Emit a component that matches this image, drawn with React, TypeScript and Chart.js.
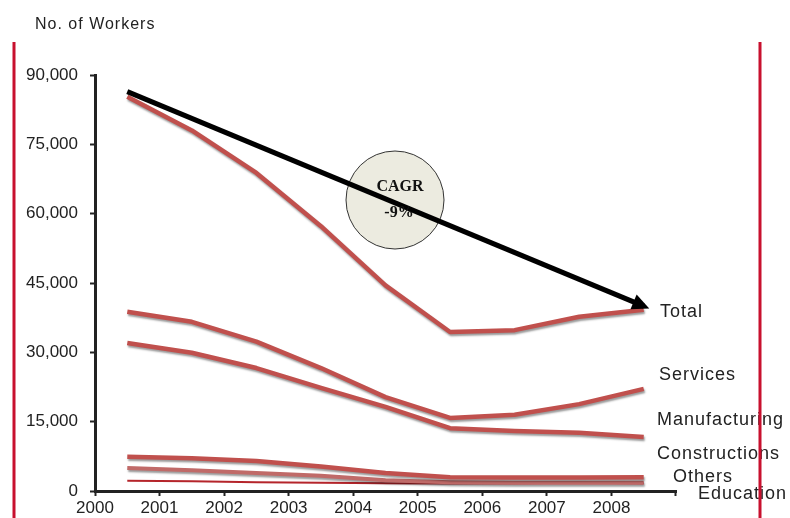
import { useEffect, useRef } from "react";
import { Chart, registerables } from "chart.js";

Chart.register(...registerables);

// ---- data ----
const years = ["2000", "2001", "2002", "2003", "2004", "2005", "2006", "2007", "2008"];
const total = [85300, 78000, 68800, 57300, 44500, 34400, 34800, 37700, 39200];
const services = [38800, 36600, 32300, 26600, 20300, 15800, 16500, 18800, 22100];
const manufacturing = [32000, 29900, 26600, 22300, 18200, 13600, 13000, 12600, 11700];
const constructions = [7400, 7100, 6500, 5300, 3900, 3000, 2900, 2900, 3000];
const others = [5000, 4500, 3900, 3300, 2300, 1900, 1800, 1800, 1800];
const education = [2200, 2100, 1900, 1800, 1700, 1600, 1700, 1800, 1700];
const cagrTrend = [86400, null, null, null, null, null, null, null, 40000];
const seriesNames = ["Total", "Services", "Manufacturing", "Constructions", "Others", "Education"];
const cagrText = ["CAGR", "-9%"];
const axisTitle = "No. of Workers";
const yMin = 0;
const yMax = 90000;
const yStep = 15000;

// ---- styles ----
const RED = "#C0504D";
const labelPos = [
  { x: 660, y: 312 },
  { x: 659, y: 375 },
  { x: 657, y: 420 },
  { x: 657, y: 454 },
  { x: 673, y: 477 },
  { x: 698, y: 494 },
];
const circle = { x: 395, y: 200, r: 49 };

const decor = {
  id: "decor",
  beforeDraw(chart: any) {
    const ctx = chart.ctx;
    ctx.save();
    ctx.fillStyle = "#222";
    ctx.font = "16px 'Liberation Sans', Arial, sans-serif";
    (ctx as any).letterSpacing = "1px";
    ctx.textBaseline = "middle";
    ctx.textAlign = "left";
    ctx.fillText(axisTitle, 35, 25);
    ctx.restore();
  },
  beforeDatasetsDraw(chart: any) {
    const ctx = chart.ctx;
    ctx.save();
    ctx.beginPath();
    ctx.arc(circle.x, circle.y, circle.r, 0, Math.PI * 2);
    ctx.fillStyle = "#ECEBE0";
    ctx.fill();
    ctx.lineWidth = 1;
    ctx.strokeStyle = "#333";
    ctx.stroke();
    ctx.restore();
  },
  beforeDatasetDraw(chart: any, args: any) {
    const ds = chart.data.datasets[args.index];
    const ctx = chart.ctx;
    ctx.save();
    if (ds.shadow) {
      ctx.shadowColor = "rgba(0,0,0,0.4)";
      ctx.shadowOffsetX = 1;
      ctx.shadowOffsetY = 2;
      ctx.shadowBlur = 2;
    }
  },
  afterDatasetDraw(chart: any) {
    chart.ctx.restore();
  },
  afterDatasetsDraw(chart: any) {
    const ctx = chart.ctx;
    // arrow head on CAGR trend
    const meta = chart.getDatasetMeta(0);
    const pts = meta.data;
    const a = pts[0];
    const b = pts[pts.length - 1];
    const ang = Math.atan2(b.y - a.y, b.x - a.x);
    const len = 17;
    const hw = 8;
    const tipX = b.x + Math.cos(ang) * 6;
    const tipY = b.y + Math.sin(ang) * 6;
    ctx.save();
    ctx.fillStyle = "#000";
    ctx.beginPath();
    ctx.moveTo(tipX, tipY);
    ctx.lineTo(
      tipX - len * Math.cos(ang) + hw * Math.sin(ang),
      tipY - len * Math.sin(ang) - hw * Math.cos(ang)
    );
    ctx.lineTo(
      tipX - len * Math.cos(ang) - hw * Math.sin(ang),
      tipY - len * Math.sin(ang) + hw * Math.cos(ang)
    );
    ctx.closePath();
    ctx.fill();
    // CAGR text
    ctx.fillStyle = "#111";
    ctx.font = "bold 16px 'Liberation Serif', 'Times New Roman', serif";
    ctx.textAlign = "center";
    ctx.textBaseline = "middle";
    ctx.fillText(cagrText[0], circle.x + 5, 187);
    ctx.fillText(cagrText[1], circle.x + 4, 213);
    ctx.restore();
  },
  afterDraw(chart: any) {
    const ctx = chart.ctx;
    ctx.save();
    ctx.fillStyle = "#222";
    ctx.font = "18px 'Liberation Sans', Arial, sans-serif";
    (ctx as any).letterSpacing = "1px";
    ctx.textAlign = "left";
    ctx.textBaseline = "middle";
    seriesNames.forEach((n, i) => {
      ctx.fillText(n, labelPos[i].x, labelPos[i].y);
    });
    (ctx as any).letterSpacing = "0px";
    // red side rules
    ctx.strokeStyle = "#C8102E";
    ctx.lineWidth = 3;
    ctx.beginPath();
    ctx.moveTo(14, 42);
    ctx.lineTo(14, 518);
    ctx.moveTo(760, 42);
    ctx.lineTo(760, 518);
    ctx.stroke();
    ctx.restore();
  },
};

function line(label: string, data: (number | null)[], color: string, width: number, shadow: boolean) {
  return {
    label,
    data,
    borderColor: color,
    backgroundColor: color,
    borderWidth: width,
    pointRadius: 0,
    tension: 0,
    fill: false,
    spanGaps: true,
    shadow,
    borderJoinStyle: "round" as const,
  };
}

export default function App() {
  const ref = useRef<HTMLCanvasElement | null>(null);
  useEffect(() => {
    if (!ref.current) return;
    const chart = new Chart(ref.current, {
      type: "line",
      data: {
        labels: years,
        datasets: [
          line("CAGR", cagrTrend, "#000", 5, false),
          line(seriesNames[0], total, RED, 4.5, true),
          line(seriesNames[1], services, RED, 4.5, true),
          line(seriesNames[2], manufacturing, RED, 4.5, true),
          line(seriesNames[3], constructions, RED, 4.5, true),
          line(seriesNames[4], others, "#C06A68", 4, true),
          line(seriesNames[5], education, "#B5252B", 2, false),
        ] as any,
      },
      options: {
        animation: false,
        responsive: false,
        devicePixelRatio: 1,
        layout: { padding: { top: 75, right: 114, left: 0, bottom: 0 } },
        plugins: { legend: { display: false }, tooltip: { enabled: false } },
        scales: {
          x: {
            type: "category",
            offset: true,
            afterFit(scale: any) {
              scale.height = 27;
            },
            border: { display: true, color: "#222", width: 3 },
            grid: {
              offset: true,
              drawOnChartArea: false,
              drawTicks: true,
              tickLength: 5,
              tickWidth: 2,
              tickColor: "#222",
            },
            ticks: {
              color: "#222",
              font: { family: "'Liberation Sans', Arial, sans-serif", size: 17 },
              labelOffset: -32.3,
              padding: 2,
              maxRotation: 0,
              autoSkip: false,
            },
          },
          y: {
            min: yMin,
            max: yMax,
            afterFit(scale: any) {
              scale.width = 95;
            },
            border: { display: true, color: "#222", width: 3 },
            grid: {
              drawOnChartArea: false,
              drawTicks: true,
              tickLength: 5,
              tickWidth: 2,
              tickColor: "#222",
            },
            ticks: {
              stepSize: yStep,
              color: "#222",
              padding: 12,
              font: { family: "'Liberation Sans', Arial, sans-serif", size: 17 },
              callback: (v: any) => Number(v).toLocaleString("en-US"),
            },
          },
        },
      },
      plugins: [decor],
    });
    return () => chart.destroy();
  }, []);
  return (
    <div style={{ position: "absolute", left: 0, top: 0, width: 790, height: 518, background: "#fff" }}>
      <canvas ref={ref} width={790} height={518} style={{ width: 790, height: 518, display: "block" }} />
    </div>
  );
}
